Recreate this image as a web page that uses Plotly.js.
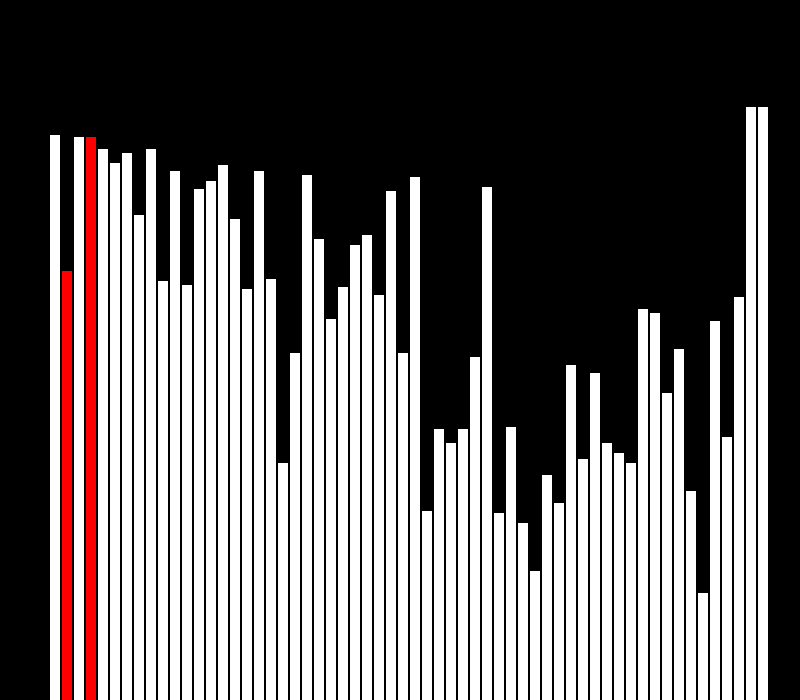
<!DOCTYPE html>
<html><head><script src="https://cdn.plot.ly/plotly-3.0.1.min.js"></script>
<style>body{margin:0;background:#000}</style></head>
<body><div id="c" style="width:800px;height:700px"></div>
<script>
const categories = Array.from({length:60},(_,i)=>i);
const values = [565,429,563,563,551,537,547,485,551,419,529,415,511,519,535,481,411,529,421,237,347,525,461,381,413,455,465,405,509,347,523,189,271,257,271,343,513,187,273,177,129,225,197,335,241,327,257,247,237,391,387,307,351,209,107,379,263,403,593,593];
const highlighted = [1,3];
const colors = categories.map(i=>highlighted.includes(i)?'#ff0000':'#ffffff');
Plotly.newPlot('c',[{type:'bar',x:categories,y:values,marker:{color:colors},hoverinfo:'none'}],{
  width:800,height:700,paper_bgcolor:'#000',plot_bgcolor:'#000',
  margin:{l:49,r:31,t:0,b:0},bargap:1/6,showlegend:false,
  xaxis:{range:[-0.5,59.5],visible:false},
  yaxis:{range:[0,700],visible:false}
},{displayModeBar:false,staticPlot:true});
</script></body></html>
